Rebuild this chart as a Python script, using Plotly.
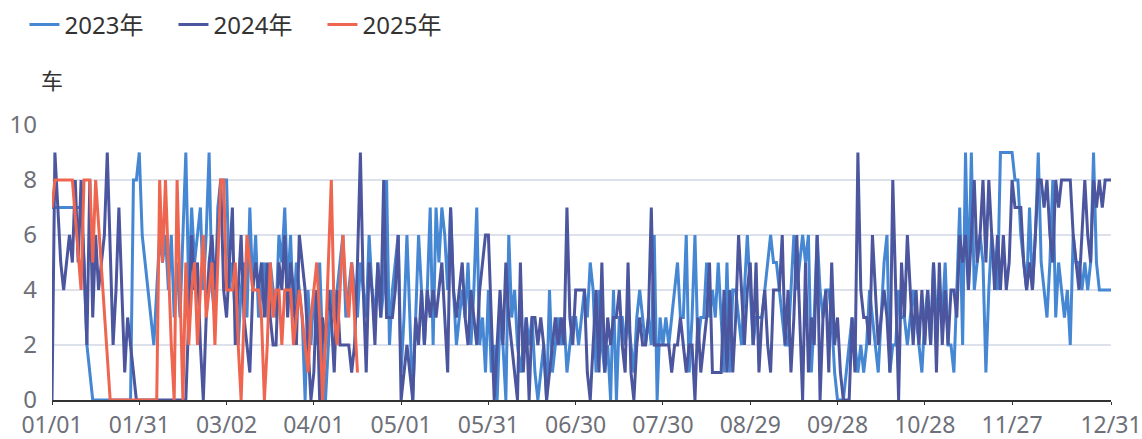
import pandas as pd
import plotly.graph_objects as go

# Daily categories (MM/DD), one per day of a non-leap year
days = pd.date_range("2023-01-01", "2023-12-31").strftime("%m/%d").tolist()
tick_days = days[0:331:30] + ["12/31"]

y2023 = [
    7, 7, 7, 7, 7, 7, 7, 7, 7, 7,
    7, 5, 2, 1, 0, 0, 0, 0, 0, 0,
    0, 0, 0, 0, 0, 0, 0, 0, 8, 8,
    9, 6, 5, 4, 3, 2, 4, 6, 5, 6,
    4, 6, 3, 5, 3, 6, 9, 4, 7, 5,
    6, 7, 4, 6, 9, 4, 3, 7, 8, 8,
    8, 4, 5, 3, 2, 4, 5, 3, 7, 4,
    6, 3, 4, 5, 3, 5, 4, 3, 6, 5,
    7, 4, 6, 3, 5, 4, 3, 0, 4, 2,
    4, 2, 5, 2, 0, 2, 4, 3, 4, 5,
    6, 3, 4, 5, 4, 3, 5, 4, 3, 6,
    4, 3, 5, 3, 4, 8, 2, 4, 5, 6,
    1, 3, 6, 3, 0, 3, 6, 4, 2, 4,
    7, 2, 7, 5, 7, 6, 4, 7, 4, 2,
    3, 4, 3, 5, 2, 4, 7, 2, 3, 1,
    4, 1, 2, 0, 3, 2, 0, 6, 3, 4,
    2, 1, 2, 3, 2, 3, 1, 0, 1, 2,
    0, 4, 1, 2, 3, 2, 3, 1, 2, 3,
    3, 2, 3, 4, 3, 5, 4, 1, 4, 2,
    1, 2, 0, 4, 0, 3, 3, 2, 3, 2,
    1, 3, 4, 3, 2, 3, 2, 6, 0, 3,
    2, 3, 2, 3, 4, 5, 3, 3, 6, 1,
    3, 6, 2, 3, 3, 5, 3, 4, 3, 5,
    3, 1, 5, 1, 4, 4, 3, 2, 4, 6,
    4, 2, 3, 3, 3, 4, 5, 6, 5, 5,
    4, 3, 2, 2, 4, 6, 4, 5, 6, 5,
    6, 1, 3, 6, 4, 3, 4, 4, 3, 1,
    0, 0, 0, 1, 2, 3, 2, 1, 2, 1,
    2, 4, 3, 2, 1, 3, 5, 6, 1, 2,
    2, 4, 3, 3, 2, 3, 4, 3, 2, 1,
    3, 4, 2, 5, 3, 4, 3, 5, 2, 2,
    1, 4, 7, 2, 9, 4, 9, 4, 5, 6,
    5, 1, 4, 6, 5, 4, 9, 9, 9, 9,
    9, 8, 8, 6, 5, 4, 7, 4, 6, 9,
    5, 4, 3, 5, 8, 3, 5, 4, 3, 4,
    2, 6, 5, 5, 4, 5, 4, 5, 9, 5,
    4, 4, 4, 4, 4,
]

y2024 = [
    0, 9, 7, 5, 4, 5, 6, 5, 8, 5,
    8, 5, 2, 8, 3, 6, 4, 5, 6, 9,
    5, 2, 4, 7, 4, 1, 3, 2, 1, 0,
    0, 0, 0, 0, 0, 0, 0, 0, 0, 0,
    0, 0, 0, 0, 0, 0, 0, 3, 6, 4,
    5, 2, 0, 3, 5, 6, 4, 6, 8, 4,
    3, 5, 7, 2, 4, 6, 3, 2, 1, 4,
    5, 4, 5, 3, 5, 3, 2, 2, 5, 4,
    6, 3, 5, 4, 2, 6, 5, 4, 2, 0,
    1, 4, 0, 3, 2, 4, 3, 1, 4, 2,
    2, 2, 2, 1, 2, 5, 9, 4, 1, 5,
    4, 2, 5, 3, 8, 3, 3, 3, 4, 6,
    0, 1, 2, 1, 0, 3, 2, 4, 2, 4,
    3, 4, 3, 4, 5, 3, 1, 7, 4, 3,
    4, 5, 3, 2, 4, 3, 2, 4, 5, 6,
    6, 3, 0, 2, 4, 2, 5, 3, 2, 1,
    0, 5, 1, 3, 0, 3, 3, 2, 3, 2,
    0, 1, 2, 3, 2, 3, 2, 7, 3, 2,
    4, 4, 4, 4, 1, 0, 2, 4, 1, 5,
    1, 3, 2, 3, 3, 4, 2, 1, 5, 1,
    0, 2, 3, 2, 2, 3, 7, 2, 2, 2,
    2, 2, 2, 1, 2, 2, 3, 2, 1, 2,
    2, 0, 3, 1, 2, 3, 5, 1, 1, 1,
    1, 4, 1, 4, 1, 3, 6, 4, 2, 4,
    5, 2, 5, 1, 3, 4, 2, 1, 4, 4,
    4, 6, 2, 4, 1, 3, 6, 3, 0, 5,
    1, 3, 2, 6, 0, 3, 4, 1, 5, 2,
    3, 1, 0, 0, 0, 3, 1, 9, 4, 3,
    3, 2, 6, 4, 2, 3, 4, 3, 1, 8,
    4, 0, 5, 3, 6, 4, 2, 4, 2, 4,
    2, 4, 2, 5, 1, 5, 2, 4, 2, 4,
    4, 3, 6, 5, 6, 4, 6, 8, 5, 6,
    8, 5, 8, 6, 4, 6, 4, 6, 4, 5,
    8, 7, 7, 7, 5, 4, 5, 4, 6, 8,
    8, 7, 8, 6, 5, 8, 7, 8, 8, 8,
    8, 6, 5, 4, 6, 8, 6, 5, 8, 7,
    8, 7, 8, 8, 8,
]

# 2025 so far; None marks days with no record
y2025 = [
    7, 8, 8, 8, 8, 8, 8, 8, None, None,
    4, 8, 8, 8, 5, 8, None, None, None, None,
    0, 0, 0, 0, 0, 0, 0, 0, 0, 0,
    0, 0, 0, 0, 0, 0, 0, 8, 5, 8,
    5, 2, 0, 8, 4, 0, 5, 2, 4, 5,
    2, 4, 6, 3, 4, 5, 2, 5, 8, 8,
    4, 4, 4, 5, 2, 0, 3, 6, 5, 4,
    4, 4, 3, 0, 2, 5, 3, 4, 4, 2,
    4, 4, 4, 2, 3, 4, 3, 2, 1, 3,
    4, 5, 3, 0, 2, 5, 8, 3, 2, 4,
    6, 4, 3, 5, 3, 1,
]

series = [
    ("2023年", y2023, "#4687d4"),
    ("2024年", y2024, "#4b569e"),
    ("2025年", y2025, "#ee6550"),
]

font_family = "Noto Sans, Noto Sans CJK SC, sans-serif"
label_color = "#6e7079"

fig = go.Figure()
for name, values, color in series:
    fig.add_trace(go.Scatter(
        x=days[:len(values)],
        y=values,
        name=name,
        mode="lines",
        line=dict(color=color, width=3),
        connectgaps=True,
    ))

fig.update_layout(
    width=1142,
    height=439,
    margin=dict(l=52, r=31, t=125, b=39, autoexpand=False),
    paper_bgcolor="white",
    plot_bgcolor="white",
    font=dict(family=font_family, size=24, color=label_color),
    showlegend=True,
    legend=dict(
        orientation="h",
        x=-0.026, xanchor="left",
        y=1.364, yanchor="middle",
        font=dict(size=24, color="#333333"),
        entrywidth=104, entrywidthmode="pixels",
        bgcolor="rgba(0,0,0,0)",
    ),
    xaxis=dict(
        type="category",
        categoryorder="array",
        categoryarray=days,
        range=[0, 364],
        tickmode="array",
        tickvals=tick_days,
        ticktext=tick_days,
        tickangle=0,
        showgrid=False,
        showline=True,
        linecolor="#333333",
        linewidth=2,
        ticks="outside",
        ticklen=3,
        tickcolor="#333333",
        tickfont=dict(size=23, color=label_color),
        zeroline=False,
    ),
    yaxis=dict(
        range=[0, 10],
        tickvals=[0, 2, 4, 6, 8, 10],
        showgrid=True,
        gridcolor="#dde1ec",
        gridwidth=1.5,
        zeroline=False,
        showline=False,
        ticks="",
        ticklabelstandoff=14,
        tickfont=dict(size=24, color=label_color),
    ),
    annotations=[
        dict(
            text="车", xref="paper", yref="paper",
            x=0, y=1.164, xanchor="center", yanchor="middle",
            showarrow=False, font=dict(size=22, color="#333333"),
        )
    ],
)

fig.write_html("out.html")
